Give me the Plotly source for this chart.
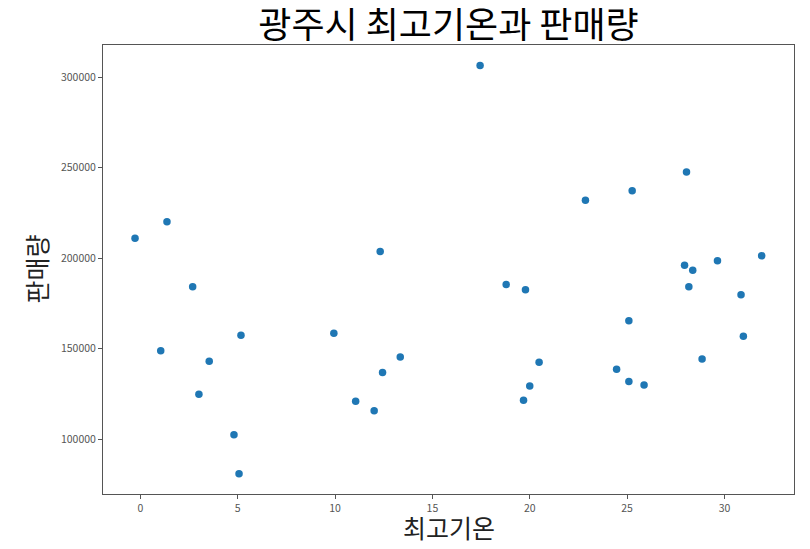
import plotly.graph_objects as go

temp_max = [-0.27, 1.37, 2.69, 5.17, 1.05, 3.54, 3.01, 4.81, 5.07,
            17.45, 12.32, 18.79, 19.78,
            9.94, 13.35, 12.44, 11.06, 12.01, 20.48, 20.0, 19.68,
            22.86, 25.26, 28.05, 27.95, 28.37, 29.64, 31.91, 28.17,
            30.85, 25.09, 30.97, 28.85, 24.46, 25.09, 25.87]
sales = [211050, 220110, 184190, 157455, 148840, 143090, 124860, 102590, 81040,
         306300, 203700, 185470, 182540,
         158560, 145520, 136850, 120990, 115850, 142540, 129500, 121540,
         232040, 237240, 247510, 196130, 193370, 198560, 201320, 184190,
         179780, 165410, 156900, 144420, 138670, 131880, 130050]

title_text = "광주시 최고기온과 판매량"
x_label = "최고기온"
y_label = "판매량"

FONT = "Noto Sans CJK KR"

W, H = 802, 541
L, R, T, B = 95, 16, 37, 55

fig = go.Figure(go.Scatter(
    x=temp_max, y=sales, mode="markers",
    marker=dict(color="#1f77b4", size=7.5, line=dict(width=0)),
))

axis_common = dict(
    showline=True, mirror=True, linecolor="#555555", linewidth=1,
    ticks="outside", ticklen=4, tickcolor="#555555",
    showgrid=False, zeroline=False,
    tickfont=dict(family=FONT, size=10.5, color="#555555"),
)

fig.update_layout(
    width=W, height=H,
    margin=dict(l=L, r=R, t=T, b=B),
    plot_bgcolor="white", paper_bgcolor="white",
    showlegend=False,
    title=dict(text=title_text, x=(L + (W - L - R) / 2) / W, xanchor="center",
               y=1 - 17 / H, yanchor="middle", yref="container",
               font=dict(family=FONT, size=36, color="black")),
    xaxis=dict(range=[-1.915, 33.57], tick0=0, dtick=5, **axis_common),
    yaxis=dict(range=[69834, 317680], tick0=100000, dtick=50000,
               tickformat="d", **axis_common),
    annotations=[
        dict(text=x_label, xref="paper", yref="paper", x=0.5, y=-0.074,
             xanchor="center", yanchor="middle", showarrow=False, borderpad=0,
             font=dict(family=FONT, size=25, color="#222222")),
        dict(text=y_label, xref="paper", yref="paper", x=-0.0984, y=0.5,
             xanchor="center", yanchor="middle", showarrow=False, textangle=-90,
             borderpad=0,
             font=dict(family=FONT, size=25, color="#222222")),
    ],
)

fig.write_html("out.html")
